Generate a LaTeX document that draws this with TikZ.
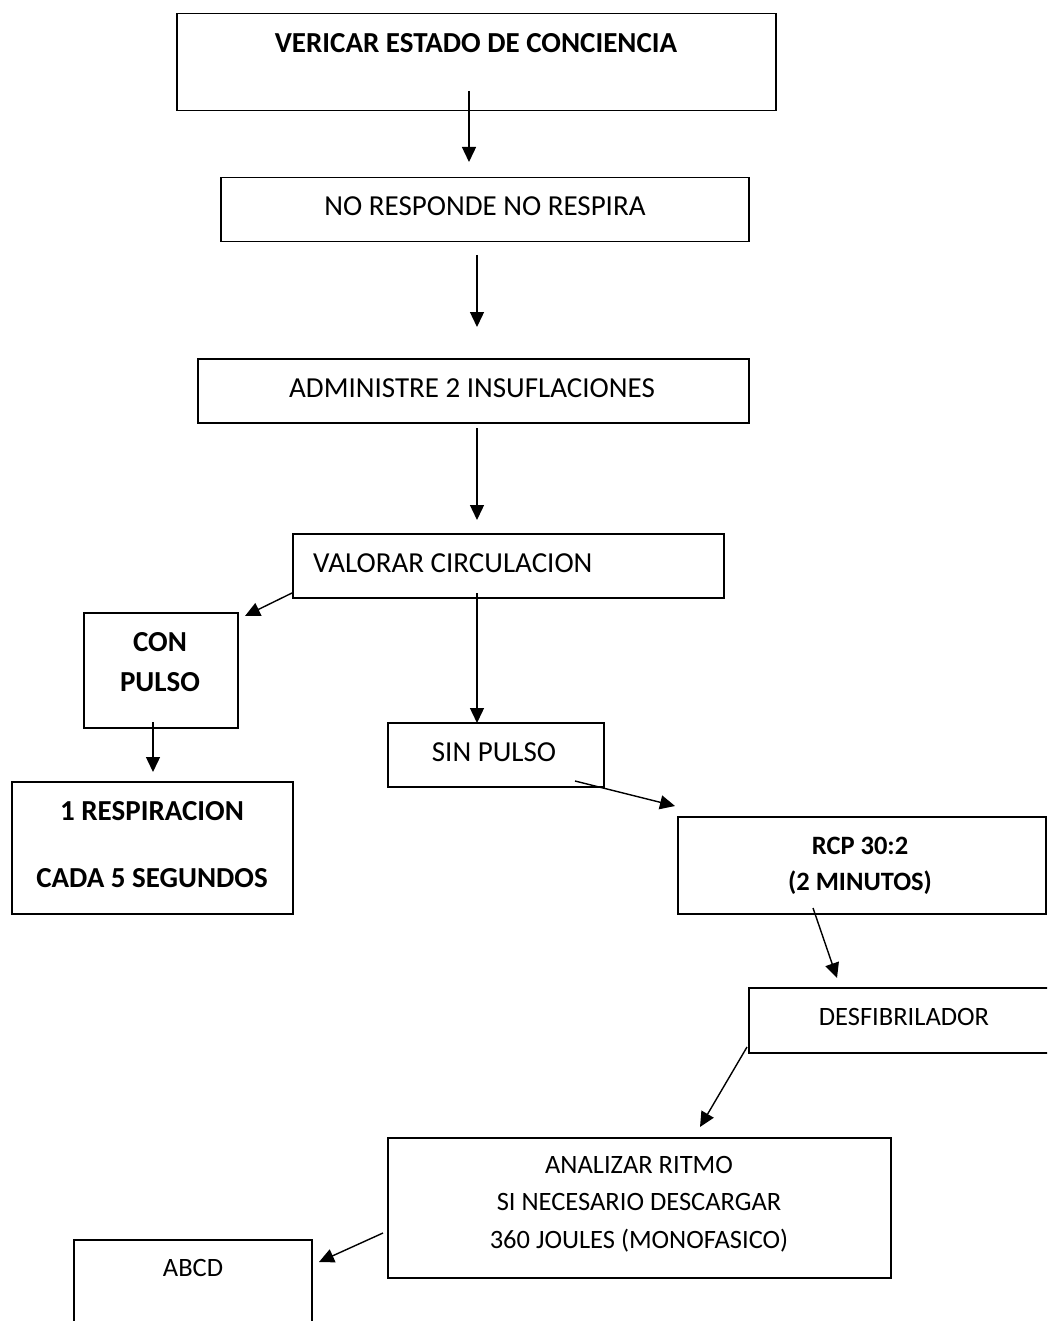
\documentclass[tikz,border=0pt]{standalone}
\usepackage{fontspec}
\setmainfont{Carlito}
\usetikzlibrary{arrows.meta}
\begin{document}
\begin{tikzpicture}[x=1pt,y=-1pt,
 box/.style={draw,line width=1.5pt,anchor=north west,inner sep=0pt},
 big/.style={font=\fontsize{29}{34}\selectfont,anchor=base,inner sep=0pt},
 bigb/.style={font=\fontsize{29}{34}\selectfont\bfseries,anchor=base,inner sep=0pt},
 small/.style={font=\fontsize{26.5}{32}\selectfont,anchor=base,inner sep=0pt},
 smallb/.style={font=\fontsize{26.5}{32}\selectfont\bfseries,anchor=base,inner sep=0pt},
 arr/.style={line width=1.4pt,-{Triangle[length=15pt,width=14pt]}}]
\useasboundingbox (0,0) rectangle (1047,1321);
\clip (0,0) rectangle (1047,1321);
% boxes
\node[box,minimum width=599pt,minimum height=97pt] (b1) at (176,13) {};
\node[box,minimum width=528pt,minimum height=64pt] (b2) at (220,177) {};
\node[box,minimum width=551pt,minimum height=64pt] (b3) at (197,358) {};
\node[box,minimum width=431pt,minimum height=64pt] (b4) at (292,533) {};
\node[box,minimum width=154pt,minimum height=115pt] (b5) at (83,612) {};
\node[box,minimum width=281pt,minimum height=132pt] (b6) at (11,781) {};
\node[box,minimum width=216pt,minimum height=64pt] (b7) at (387,722) {};
\node[box,minimum width=368pt,minimum height=97pt] (b8) at (677,816) {};
\node[box,minimum width=320pt,minimum height=65pt] (b9) at (748,987) {};
\node[box,minimum width=503pt,minimum height=140pt] (b10) at (387,1137) {};
\node[box,minimum width=238pt,minimum height=120pt] (b11) at (73,1239) {};
% texts
\node[bigb] (t1) at (476,53) {VERICAR ESTADO DE CONCIENCIA};
\node[big] (t2) at (485,216) {NO RESPONDE NO RESPIRA};
\node[big] (t3) at (472,397) {ADMINISTRE 2 INSUFLACIONES};
\node[big,anchor=base west] (t4) at (313,572) {VALORAR CIRCULACION};
\node[bigb] (t5a) at (160,651) {CON};
\node[bigb] (t5b) at (160,691) {PULSO};
\node[bigb] (t6a) at (152,820) {1 RESPIRACION};
\node[bigb] (t6b) at (152,887) {CADA 5 SEGUNDOS};
\node[big] (t7) at (494,761) {SIN PULSO};
\node[smallb] (t8a) at (860,854.5) {RCP 30:2};
\node[smallb] (t8b) at (860,890.5) {(2 MINUTOS)};
\node[small] (t9) at (904,1025.5) {DESFIBRILADOR};
\node[small] (t10a) at (639,1173.5) {ANALIZAR RITMO};
\node[small] (t10b) at (639,1210.5) {SI NECESARIO DESCARGAR};
\node[small] (t10c) at (639,1248.5) {360 JOULES (MONOFASICO)};
\node[small] (t11) at (193,1276.5) {ABCD};
% connector end points
\coordinate (a1s) at (469,91);   \coordinate (a1e) at (469,162);
\coordinate (a2s) at (477,255);  \coordinate (a2e) at (477,327);
\coordinate (a3s) at (477,428);  \coordinate (a3e) at (477,520);
\coordinate (a4s) at (292,593);  \coordinate (a4e) at (245,616);
\coordinate (a5s) at (153,722);  \coordinate (a5e) at (153,772);
\coordinate (a6s) at (477,593);  \coordinate (a6e) at (477,723);
\coordinate (a7s) at (575,781);  \coordinate (a7e) at (675,806);
\coordinate (a8s) at (813,908);  \coordinate (a8e) at (837,978);
\coordinate (a9s) at (747,1047); \coordinate (a9e) at (700,1127);
\coordinate (a10s) at (383,1233); \coordinate (a10e) at (319,1262);
\draw[arr] (a1s) -- (a1e);
\draw[arr] (a2s) -- (a2e);
\draw[arr] (a3s) -- (a3e);
\draw[arr] (a4s) -- (a4e);
\draw[arr] (a5s) -- (a5e);
\draw[arr] (a6s) -- (a6e);
\draw[arr] (a7s) -- (a7e);
\draw[arr] (a8s) -- (a8e);
\draw[arr] (a9s) -- (a9e);
\draw[arr] (a10s) -- (a10e);
\end{tikzpicture}
\end{document}
